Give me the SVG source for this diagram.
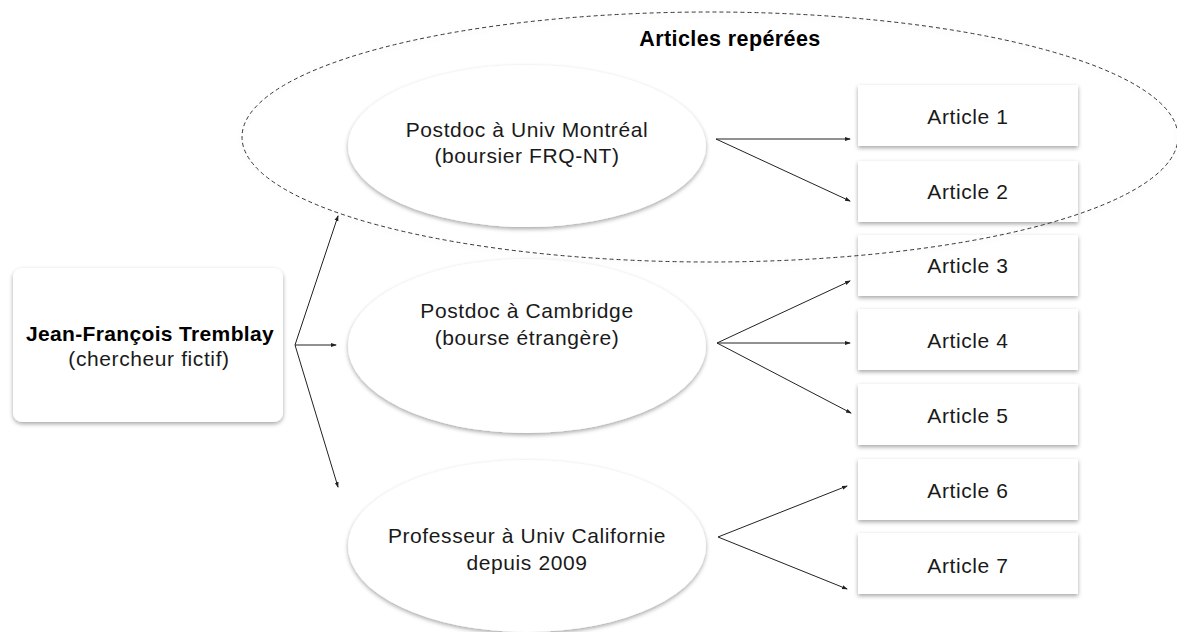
<svg xmlns="http://www.w3.org/2000/svg" width="1177" height="632" viewBox="0 0 1177 632">
<style>
.t{font-family:"Liberation Sans",Arial,sans-serif;font-size:21px;letter-spacing:0.6px;fill:#1a1a1a;text-anchor:middle}
.b{font-weight:bold;fill:#000}
.node{fill:#fff;filter:url(#sh)}
.con line{stroke:#222;stroke-width:1;marker-end:url(#ah)}
.grp{fill:none;stroke:#333;stroke-width:1;stroke-dasharray:4 3}
</style>
<defs>
<filter id="sh" x="-10%" y="-10%" width="120%" height="130%">
<feDropShadow dx="0" dy="2" stdDeviation="2" flood-color="#000" flood-opacity="0.35"/>
</filter>
<filter id="sh2" x="-5%" y="-10%" width="110%" height="130%">
<feDropShadow dx="0" dy="2" stdDeviation="2.5" flood-color="#000" flood-opacity="0.12"/>
</filter>
<marker id="ah" markerWidth="6" markerHeight="6" refX="5" refY="3" orient="auto" markerUnits="userSpaceOnUse">
<path d="M0,1 L6,3 L0,5 Z" fill="#222"/>
</marker>
</defs>
<rect width="1177" height="632" fill="#fff"/>

<g id="person">
<rect class="node" x="13" y="268" width="270" height="154" rx="9"/>
<text class="t b" x="150" y="341" style="letter-spacing:0.35px">Jean-François Tremblay</text>
<text class="t" x="149" y="366">(chercheur fictif)</text>
</g>

<g id="montreal">
<ellipse class="node" cx="527" cy="146" rx="179" ry="81"/>
<text class="t" x="527" y="137">Postdoc à Univ Montréal</text>
<text class="t" x="527" y="163">(boursier FRQ-NT)</text>
</g>

<g id="cambridge">
<ellipse class="node" cx="527" cy="346" rx="179" ry="87"/>
<text class="t" x="527" y="318">Postdoc à Cambridge</text>
<text class="t" x="527" y="345">(bourse étrangère)</text>
</g>

<g id="californie">
<ellipse class="node" cx="527" cy="546" rx="179" ry="86"/>
<text class="t" x="527" y="543">Professeur à Univ Californie</text>
<text class="t" x="527" y="570">depuis 2009</text>
</g>

<g id="article1"><rect class="node" x="858" y="85" width="220" height="61"/><text class="t" x="968" y="124">Article 1</text></g>
<g id="article2"><rect class="node" x="858" y="161" width="220" height="61"/><text class="t" x="968" y="199">Article 2</text></g>
<g id="article3"><rect class="node" x="858" y="235" width="220" height="61"/><text class="t" x="968" y="273">Article 3</text></g>
<g id="article4"><rect class="node" x="858" y="309" width="220" height="61"/><text class="t" x="968" y="348">Article 4</text></g>
<g id="article5"><rect class="node" x="858" y="384" width="220" height="61"/><text class="t" x="968" y="423">Article 5</text></g>
<g id="article6"><rect class="node" x="858" y="459" width="220" height="61"/><text class="t" x="968" y="498">Article 6</text></g>
<g id="article7"><rect class="node" x="858" y="533" width="220" height="61"/><text class="t" x="968" y="573">Article 7</text></g>

<g id="group">
<ellipse class="grp" cx="710" cy="137" rx="468" ry="125" filter="url(#sh2)"/>
<text class="t b" x="730" y="46" style="font-size:21.5px;letter-spacing:0.4px">Articles repérées</text>
</g>

<g class="con" id="connectors">
<line x1="295" y1="345" x2="338" y2="216"/>
<line x1="295" y1="345" x2="336" y2="345"/>
<line x1="295" y1="345" x2="338" y2="487"/>
<line x1="716" y1="139" x2="850" y2="139"/>
<line x1="716" y1="139" x2="850" y2="201"/>
<line x1="717" y1="343" x2="850" y2="281"/>
<line x1="717" y1="343" x2="850" y2="343"/>
<line x1="717" y1="343" x2="851" y2="413"/>
<line x1="718" y1="537" x2="847" y2="486"/>
<line x1="718" y1="537" x2="847" y2="589"/>
</g>
</svg>
